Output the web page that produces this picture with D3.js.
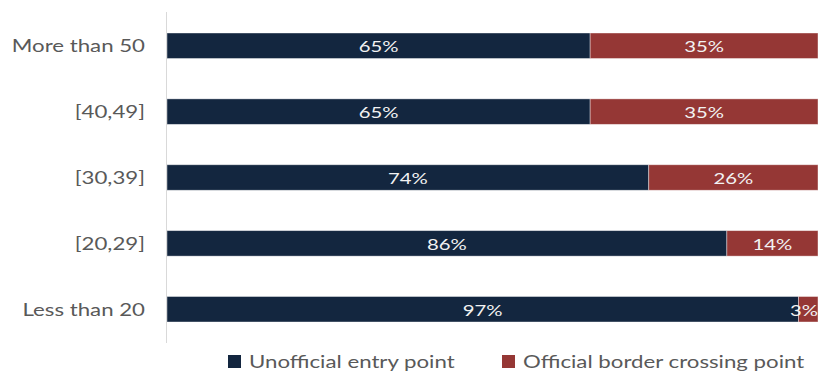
<!DOCTYPE html>
<html>
<head>
<meta charset="utf-8">
<script src="https://cdn.jsdelivr.net/npm/d3@7"></script>
<style>
  html, body { margin: 0; padding: 0; background: #fff; }
  svg { display: block; font-family: Lato, "Open Sans", sans-serif; }
</style>
</head>
<body>
<svg id="chart" width="819" height="372"></svg>
<script>
// Age groups, top to bottom
const categories = ["More than 50", "[40,49]", "[30,39]", "[20,29]", "Less than 20"];
// Share of entries by type of crossing point (%)
const unofficial = [65, 65, 74, 86, 97];
const official   = [35, 35, 26, 14, 3];
const seriesNames = ["Unofficial entry point", "Official border crossing point"];
const seriesColors = ["#13263f", "#953735"];

const svg = d3.select("#chart");
const W = 819, H = 372;
const plotLeft = 167, plotRight = 818;
const stretch = 1.27; // horizontal widening applied to all text

const x = d3.scaleLinear().domain([0, 100]).range([plotLeft, plotRight]);
const y = d3.scaleBand().domain(categories).range([33, 322]).paddingInner(0.613).paddingOuter(0);

const rows = categories.map((c, i) => ({ cat: c, vals: [unofficial[i], official[i]] }));

// stacked segments
const stack = d3.stack().keys([0, 1]).value((d, k) => d.vals[k]);
const layers = stack(rows);

// helper: text anchored at (tx, ty), widened horizontally
function wideText(sel, tx, ty) {
  return sel.attr("x", 0).attr("y", 0)
    .attr("transform", (d, i) => `translate(${tx(d, i)},${ty(d, i)}) scale(${stretch},1)`);
}

const g = svg.append("g");
layers.forEach((layer, k) => {
  g.selectAll(null).data(layer).enter().append("rect")
    .attr("x", d => x(d[0]))
    .attr("y", d => y(d.data.cat))
    .attr("width", d => x(d[1]) - x(d[0]))
    .attr("height", y.bandwidth())
    .attr("fill", seriesColors[k])
    .attr("stroke", "rgba(255,255,255,0.5)")
    .attr("stroke-width", 0.8);

  // value labels centred in each segment; kept inside the right edge of the page
  const labels = wideText(
    g.selectAll(null).data(layer).enter().append("text"),
    d => (x(d[0]) + x(d[1])) / 2,
    d => y(d.data.cat) + y.bandwidth() / 2 + 0.5
  )
    .attr("dy", "0.36em")
    .attr("text-anchor", "middle")
    .attr("fill", "#f2f2f2")
    .attr("font-size", 16)
    .text(d => (d[1] - d[0]) + "%");

  labels.each(function(d) {
    const half = this.getComputedTextLength() * stretch / 2;
    let cx = (x(d[0]) + x(d[1])) / 2;
    if (cx + half > W - 1) cx = W - 1 - half;
    d3.select(this).attr("transform",
      `translate(${cx},${y(d.data.cat) + y.bandwidth() / 2 + 0.5}) scale(${stretch},1)`);
  });
});

// category axis line
svg.append("line")
  .attr("x1", plotLeft - 0.5).attr("x2", plotLeft - 0.5)
  .attr("y1", 12).attr("y2", 343)
  .attr("stroke", "#d9d9d9").attr("stroke-width", 1);

// category labels
wideText(
  svg.append("g").selectAll("text").data(categories).enter().append("text"),
  d => 145,
  d => y(d) + y.bandwidth() / 2
)
  .attr("dy", "0.36em")
  .attr("text-anchor", "end")
  .attr("font-size", 17.5)
  .attr("fill", "#595959")
  .text(d => d);

// legend
const legendX = [228, 502];
const leg = svg.append("g");
seriesNames.forEach((n, k) => {
  leg.append("rect").attr("x", legendX[k]).attr("y", 355).attr("width", 13).attr("height", 13)
    .attr("fill", seriesColors[k]);
});
wideText(
  leg.selectAll("text").data(seriesNames).enter().append("text"),
  (d, k) => legendX[k] + 21,
  () => 361.5
)
  .attr("dy", "0.36em")
  .attr("font-size", 17.5)
  .attr("fill", "#595959")
  .text(d => d);
</script>
</body>
</html>
